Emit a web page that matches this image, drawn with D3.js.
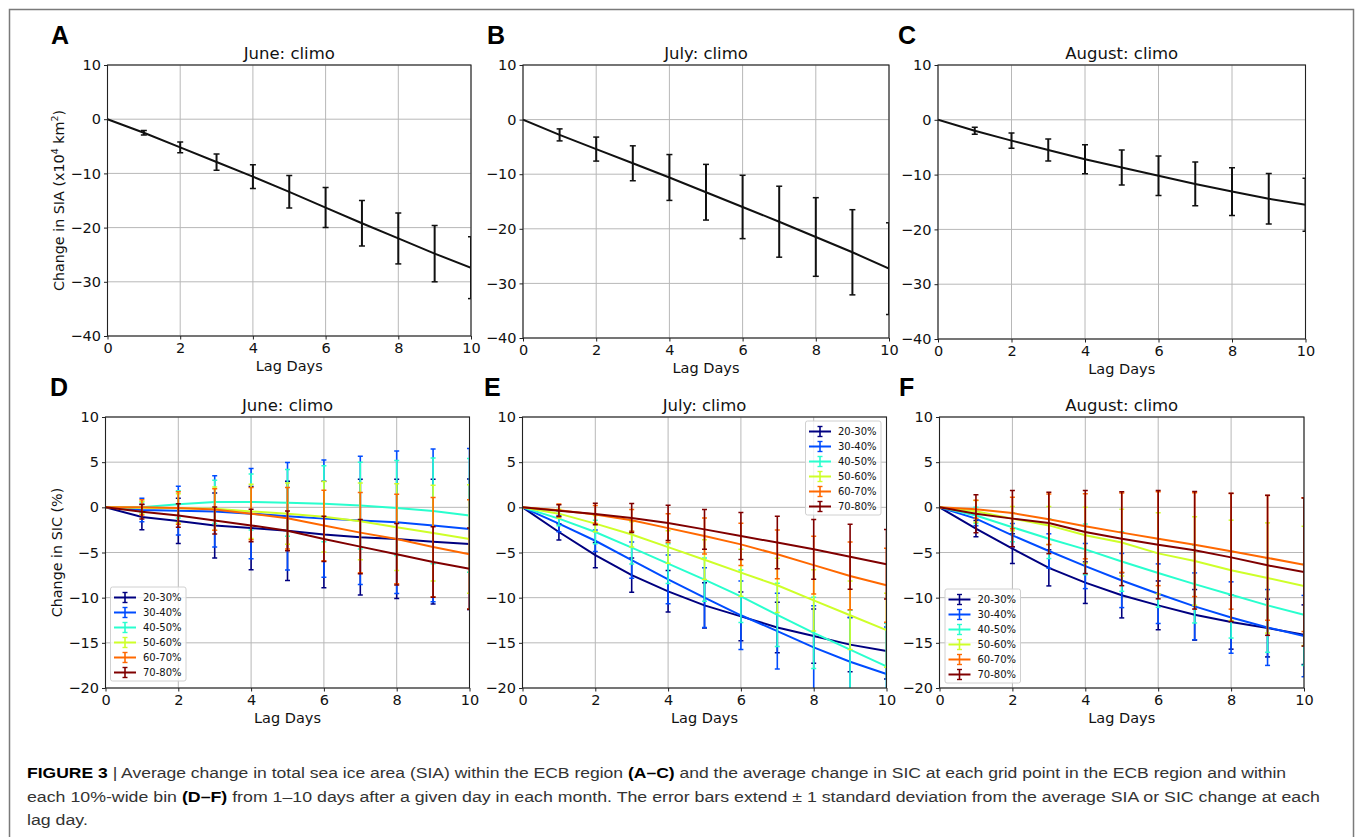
<!DOCTYPE html>
<html>
<head>
<meta charset="utf-8">
<script src="https://cdn.jsdelivr.net/npm/d3@7/dist/d3.min.js"></script>
<style>
  body { margin: 0; background: #fff; }
  text { font-family: "DejaVu Sans", sans-serif; fill: #111; }
</style>
</head>
<body>
<svg id="fig" width="1355" height="837"></svg>
<script>
// lag days on the x axis
const lagDays = [0, 1, 2, 3, 4, 5, 6, 7, 8, 9, 10];
const xTicks = [0, 2, 4, 6, 8, 10];
const siaTicks = [10, 0, -10, -20, -30, -40];
const sicTicks = [10, 5, 0, -5, -10, -15, -20];

// total sea ice area change (x10^4 km^2), mean and 1 std
const siaJuneMean = [0, -2.5, -5.2, -7.9, -10.6, -13.4, -16.3, -19.2, -22.0, -24.8, -27.4];
const siaJuneStd  = [0, 0.4, 1.0, 1.5, 2.2, 3.0, 3.7, 4.2, 4.7, 5.2, 5.7];
const siaJulyMean = [0, -2.8, -5.4, -8.0, -10.6, -13.3, -16.0, -18.7, -21.5, -24.3, -27.3];
const siaJulyStd  = [0, 1.1, 2.2, 3.2, 4.2, 5.1, 5.8, 6.5, 7.2, 7.8, 8.4];
const siaAugMean  = [0, -2.0, -3.8, -5.5, -7.2, -8.7, -10.2, -11.7, -13.1, -14.4, -15.5];
const siaAugStd   = [0, 0.65, 1.4, 2.0, 2.65, 3.2, 3.6, 4.0, 4.35, 4.6, 4.85];

// SIC bins
const binLabels = ["20-30%", "30-40%", "40-50%", "50-60%", "60-70%", "70-80%"];
const binColors = ["#000080", "#004cff", "#29ffce", "#ceff29", "#ff6800", "#800000"];

// SIC change (%) per bin, mean and 1 std
const sicJuneMean = [
  [0, -1.07, -1.5, -2.0, -2.3, -2.6, -3.0, -3.3, -3.5, -3.8, -4.06],
  [0, -0.3, -0.37, -0.45, -0.7, -1.0, -1.25, -1.45, -1.65, -2.0, -2.4],
  [0, 0.0, 0.33, 0.6, 0.6, 0.5, 0.4, 0.2, -0.07, -0.4, -0.9],
  [0, -0.05, -0.1, -0.15, -0.45, -0.7, -1.05, -1.55, -2.2, -2.85, -3.5],
  [0, 0.0, -0.07, -0.25, -0.7, -1.2, -2.0, -2.8, -3.5, -4.4, -5.2],
  [0, -0.5, -0.9, -1.45, -2.0, -2.6, -3.5, -4.35, -5.2, -6.05, -6.8]
];
const sicJuneStd = [
  [0, 1.4, 2.5, 3.6, 4.6, 5.5, 5.9, 6.4, 6.6, 6.9, 7.2],
  [0, 1.3, 2.7, 3.95, 5.0, 5.95, 6.5, 7.1, 7.9, 8.45, 8.9],
  [0, 0.6, 1.5, 2.4, 3.1, 3.7, 4.2, 4.8, 5.25, 5.85, 6.3],
  [0, 0.7, 1.6, 2.4, 3.0, 3.4, 3.9, 4.25, 4.8, 5.3, 6.0],
  [0, 0.85, 1.8, 2.3, 2.9, 3.4, 3.9, 4.45, 4.95, 5.5, 6.05],
  [0, 0.8, 1.3, 1.5, 1.8, 2.2, 2.5, 3.0, 3.4, 3.9, 4.5]
];
const sicJulyMean = [
  [0, -2.73, -5.3, -7.5, -9.3, -10.85, -12.07, -13.3, -14.25, -15.2, -15.9],
  [0, -1.8, -3.7, -5.85, -7.97, -10.0, -11.95, -13.7, -15.5, -17.1, -18.45],
  [0, -1.25, -2.73, -4.46, -6.24, -8.0, -9.85, -11.9, -13.9, -15.75, -17.6],
  [0, -0.7, -1.8, -3.0, -4.4, -5.8, -7.23, -8.63, -10.3, -11.95, -13.6],
  [0, -0.33, -0.8, -1.44, -2.3, -3.17, -4.1, -5.2, -6.4, -7.6, -8.63],
  [0, -0.37, -0.74, -1.18, -1.73, -2.44, -3.17, -3.9, -4.65, -5.46, -6.3]
];
const sicJulyStd = [
  [0, 0.9, 1.4, 1.9, 2.3, 2.5, 2.7, 2.8, 3.0, 3.0, 3.1],
  [0, 0.9, 1.2, 2.0, 2.7, 3.3, 3.8, 4.2, 4.6, 4.9, 5.2],
  [0, 0.8, 1.3, 1.8, 2.2, 2.4, 2.9, 3.5, 3.95, 4.35, 4.8],
  [0, 0.5, 0.9, 1.4, 1.8, 2.2, 2.6, 3.0, 3.4, 3.8, 4.1],
  [0, 0.7, 1.0, 1.2, 1.6, 2.0, 2.35, 2.7, 3.2, 3.75, 4.1],
  [0, 0.65, 1.2, 1.6, 1.95, 2.2, 2.6, 2.9, 3.3, 3.6, 3.85]
];
const sicAugMean = [
  [0, -2.36, -4.58, -6.7, -8.34, -9.74, -10.85, -11.9, -12.7, -13.36, -14.1],
  [0, -1.25, -3.1, -4.83, -6.5, -8.1, -9.56, -10.96, -12.2, -13.3, -14.25],
  [0, -0.9, -2.2, -3.47, -4.65, -6.0, -7.27, -8.5, -9.67, -10.85, -11.9],
  [0, -0.44, -1.25, -2.0, -3.1, -3.9, -5.1, -5.94, -6.97, -7.82, -8.7],
  [0, -0.22, -0.63, -1.33, -2.1, -2.8, -3.47, -4.13, -4.87, -5.6, -6.35],
  [0, -0.7, -1.25, -1.73, -2.73, -3.47, -4.13, -4.76, -5.54, -6.42, -7.16]
];
const sicAugStd = [
  [0, 0.9, 1.65, 2.0, 2.3, 2.5, 2.7, 2.8, 3.0, 3.2, 3.3],
  [0, 0.8, 1.3, 1.9, 2.5, 3.0, 3.3, 3.7, 3.95, 4.2, 4.5],
  [0, 0.9, 1.6, 2.2, 2.8, 3.3, 3.8, 4.3, 4.8, 5.2, 5.6],
  [0, 1.2, 1.35, 2.1, 3.1, 3.7, 4.5, 4.9, 5.55, 6.1, 6.6],
  [0, 1.0, 1.75, 2.8, 3.6, 4.4, 5.2, 5.75, 6.4, 6.9, 7.4],
  [0, 2.1, 3.1, 3.4, 4.6, 5.2, 6.0, 6.5, 7.1, 7.75, 8.2]
];

const svg = d3.select("#fig");

// outer frame
svg.append("rect")
  .attr("x", 9.5).attr("y", 9.5)
  .attr("width", 1344).attr("height", 900)
  .attr("fill", "none").attr("stroke", "#7a7a7a").attr("stroke-width", 1.5);

const panels = [
  {letter: "A", x0: 107.5, x1: 471, y0: 65, y1: 336, lx: 51, ly: 44, title: "June: climo", kind: "sia", ylab: true,
   series: [{mean: siaJuneMean, std: siaJuneStd, color: "#111"}]},
  {letter: "B", x0: 523, x1: 889, y0: 65, y1: 338, lx: 487, ly: 44, title: "July: climo", kind: "sia",
   series: [{mean: siaJulyMean, std: siaJulyStd, color: "#111"}]},
  {letter: "C", x0: 938, x1: 1305.5, y0: 65, y1: 339, lx: 898, ly: 44, title: "August: climo", kind: "sia",
   series: [{mean: siaAugMean, std: siaAugStd, color: "#111"}]},
  {letter: "D", x0: 105.5, x1: 469.5, y0: 417, y1: 688, lx: 50, ly: 396, title: "June: climo", kind: "sic", ylab: true,
   series: binLabels.map((b, i) => ({mean: sicJuneMean[i], std: sicJuneStd[i], color: binColors[i]})),
   legend: {x: 110.5, y: 587}},
  {letter: "E", x0: 522.5, x1: 886.5, y0: 417, y1: 688, lx: 484, ly: 396, title: "July: climo", kind: "sic",
   series: binLabels.map((b, i) => ({mean: sicJulyMean[i], std: sicJulyStd[i], color: binColors[i]})),
   legend: {x: 805.5, y: 421}},
  {letter: "F", x0: 939.5, x1: 1304, y0: 417, y1: 688, lx: 899, ly: 396, title: "August: climo", kind: "sic",
   series: binLabels.map((b, i) => ({mean: sicAugMean[i], std: sicAugStd[i], color: binColors[i]})),
   legend: {x: 945, y: 589}}
];

panels.forEach((p, pi) => drawPanel(p, pi));

function drawPanel(p, pi) {
  const sia = p.kind === "sia";
  const x = d3.scaleLinear().domain([0, 10]).range([p.x0, p.x1]);
  const y = d3.scaleLinear().domain(sia ? [-40, 10] : [-20, 10]).range([p.y1, p.y0]);
  const yTicks = sia ? siaTicks : sicTicks;
  const g = svg.append("g");

  // grid
  g.append("g").selectAll("line").data(xTicks).join("line")
    .attr("x1", d => x(d)).attr("x2", d => x(d)).attr("y1", p.y0).attr("y2", p.y1)
    .attr("stroke", "#b8b8b8").attr("stroke-width", 1);
  g.append("g").selectAll("line").data(yTicks).join("line")
    .attr("y1", d => y(d)).attr("y2", d => y(d)).attr("x1", p.x0).attr("x2", p.x1)
    .attr("stroke", "#b8b8b8").attr("stroke-width", 1);

  // axes
  const xAxis = g.append("g").attr("transform", `translate(0,${p.y1})`)
    .call(d3.axisBottom(x).tickValues(xTicks).tickSize(3.5).tickPadding(3));
  const yAxis = g.append("g").attr("transform", `translate(${p.x0},0)`)
    .call(d3.axisLeft(y).tickValues(yTicks).tickSize(3.5).tickPadding(3)
      .tickFormat(d => d < 0 ? "\u2212" + Math.abs(d) : d));
  [xAxis, yAxis].forEach(a => {
    a.select(".domain").remove();
    a.selectAll("line").attr("stroke", "#222");
    a.selectAll("text").attr("font-size", 14.5).style("font-family", "DejaVu Sans").attr("fill", "#111");
  });

  // clip
  const cid = "clip" + pi;
  svg.append("clipPath").attr("id", cid).append("rect")
    .attr("x", p.x0).attr("y", p.y0).attr("width", p.x1 - p.x0).attr("height", p.y1 - p.y0);
  const plot = g.append("g").attr("clip-path", `url(#${cid})`);

  const line = d3.line().x((d, i) => x(lagDays[i])).y(d => y(d));
  const cap = sia ? 3 : 2.5;

  p.series.forEach(s => {
    const sg = plot.append("g");
    const pts = lagDays.slice(1).map(d => ({d, m: s.mean[d], e: s.std[d]}));
    sg.append("path").datum(s.mean).attr("d", line)
      .attr("fill", "none").attr("stroke", s.color).attr("stroke-width", 2);
    sg.selectAll("line.bar").data(pts).join("line").attr("class", "bar")
      .attr("x1", d => x(d.d)).attr("x2", d => x(d.d))
      .attr("y1", d => y(d.m + d.e)).attr("y2", d => y(d.m - d.e))
      .attr("stroke", s.color).attr("stroke-width", sia ? 2 : 1.6);
    ["top", "bot"].forEach(k => {
      sg.selectAll("line." + k).data(pts).join("line").attr("class", k)
        .attr("x1", d => x(d.d) - cap).attr("x2", d => x(d.d) + cap)
        .attr("y1", d => y(k === "top" ? d.m + d.e : d.m - d.e))
        .attr("y2", d => y(k === "top" ? d.m + d.e : d.m - d.e))
        .attr("stroke", s.color).attr("stroke-width", 1.5);
    });
  });

  // frame
  g.append("rect").attr("x", p.x0).attr("y", p.y0)
    .attr("width", p.x1 - p.x0).attr("height", p.y1 - p.y0)
    .attr("fill", "none").attr("stroke", "#222").attr("stroke-width", 1.1);

  // title, letters, labels
  g.append("text").attr("x", (p.x0 + p.x1) / 2).attr("y", p.y0 - 6)
    .attr("text-anchor", "middle").attr("font-size", 16.5).text(p.title);
  g.append("text").attr("x", p.lx).attr("y", p.ly)
    .style("font-family", "'Liberation Sans', Arial, sans-serif").style("font-weight", "bold")
    .attr("font-size", 25).style("fill", "#000").text(p.letter);
  g.append("text").attr("x", (p.x0 + p.x1) / 2).attr("y", p.y1 + 35)
    .attr("text-anchor", "middle").attr("font-size", 14.5).text("Lag Days");

  if (p.ylab) {
    const yl = g.append("text")
      .attr("transform", `translate(${p.x0 - 44},${(p.y0 + p.y1) / 2}) rotate(-90)`)
      .attr("text-anchor", "middle").attr("font-size", 14.3);
    if (sia) {
      yl.append("tspan").text("Change in SIA (x10");
      yl.append("tspan").attr("font-size", 9.5).attr("dy", -6).text("4");
      yl.append("tspan").attr("dy", 6).text(" km");
      yl.append("tspan").attr("font-size", 9.5).attr("dy", -6).text("2");
      yl.append("tspan").attr("dy", 6).text(")");
    } else {
      yl.text("Change in SIC (%)");
    }
  }

  if (p.legend) {
    const lg = g.append("g").attr("transform", `translate(${p.legend.x},${p.legend.y})`);
    lg.append("rect").attr("x", 0).attr("y", 0).attr("width", 75.5).attr("height", 94)
      .attr("rx", 2).attr("fill", "#fff").attr("fill-opacity", 0.8)
      .attr("stroke", "#d0d0d0").attr("stroke-width", 1);
    const row = lg.selectAll("g.row").data(binLabels).join("g").attr("class", "row")
      .attr("transform", (d, i) => `translate(0,${10.5 + i * 15})`);
    row.append("line").attr("x1", 3.5).attr("x2", 25.5).attr("y1", 0).attr("y2", 0)
      .attr("stroke", (d, i) => binColors[i]).attr("stroke-width", 2);
    row.append("line").attr("x1", 14.5).attr("x2", 14.5).attr("y1", -5).attr("y2", 5)
      .attr("stroke", (d, i) => binColors[i]).attr("stroke-width", 1.6);
    [-5, 5].forEach(dy => row.append("line").attr("x1", 12).attr("x2", 17).attr("y1", dy).attr("y2", dy)
      .attr("stroke", (d, i) => binColors[i]).attr("stroke-width", 1.4));
    row.append("text").attr("x", 32.5).attr("y", 0).attr("dy", "0.35em")
      .attr("font-size", 10).text(d => d);
  }
}

// caption
const capLines = [
  {y: 778, w: 1260, parts: [["FIGURE 3", true], [" | Average change in total sea ice area (SIA) within the ECB region ", false], ["(A\u2013C)", true], [" and the average change in SIC at each grid point in the ECB region and within", false]]},
  {y: 801.5, w: 1294, parts: [["each 10%-wide bin ", false], ["(D\u2013F)", true], [" from 1\u201310 days after a given day in each month. The error bars extend \u00b1 1 standard deviation from the average SIA or SIC change at each", false]]},
  {y: 825, w: null, parts: [["lag day.", false]]}
];
let lastScale = 1;
capLines.forEach(l => {
  const t = svg.append("text").attr("x", 0).attr("y", 0)
    .style("font-family", "'Liberation Sans', Arial, sans-serif").attr("font-size", 15.5).style("fill", "#222");
  l.parts.forEach(([s, b]) => t.append("tspan").style("font-weight", b ? "bold" : "normal")
    .style("fill", b ? "#000" : "#333").text(s));
  const nat = t.node().getComputedTextLength();
  const sx = l.w ? l.w / nat : lastScale;
  lastScale = sx;
  t.attr("transform", `translate(27,${l.y}) scale(${sx},1)`);
});
</script>
</body>
</html>
